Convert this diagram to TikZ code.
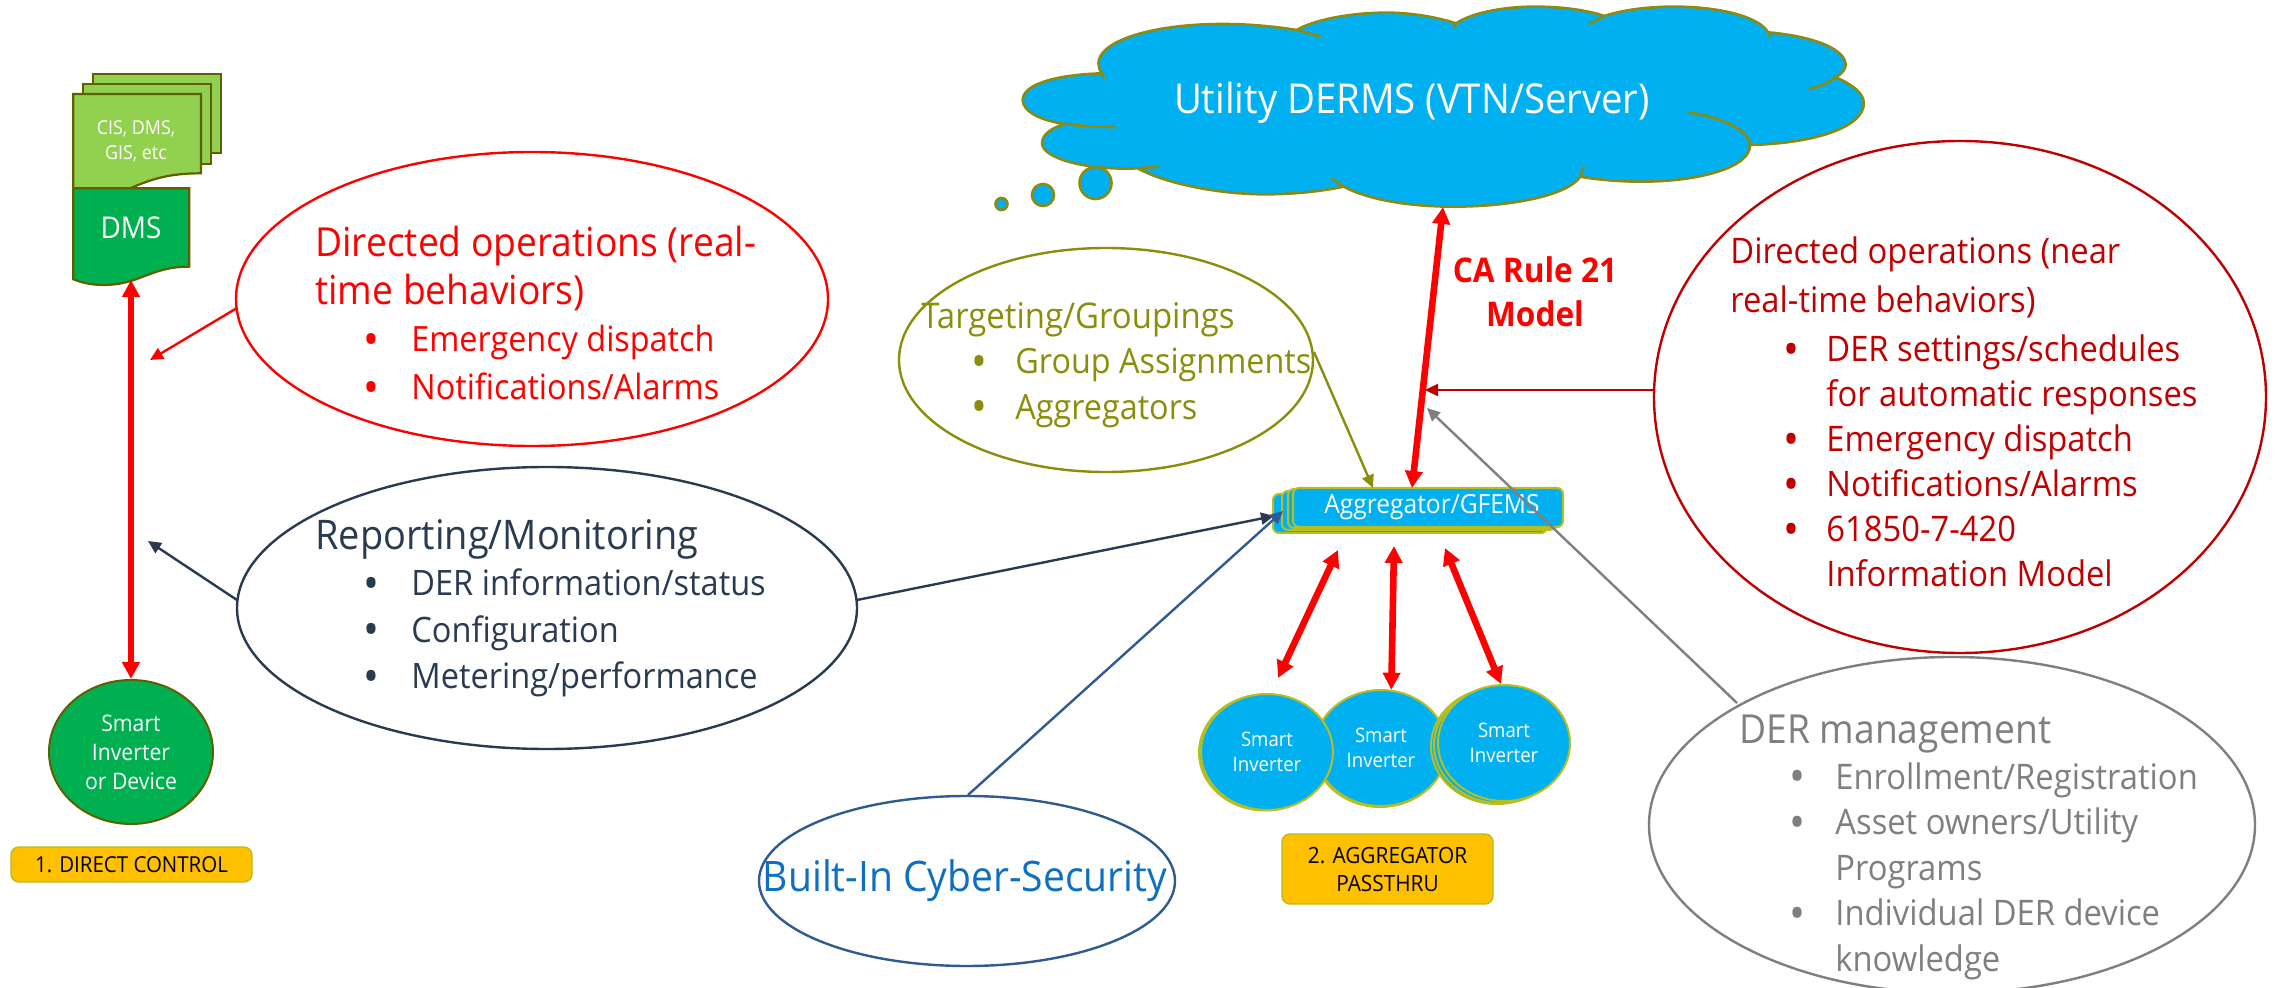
\documentclass[tikz,border=0pt]{standalone}
\usepackage{fontspec}
\setmainfont[FakeStretch=0.93]{Open Sans}
\usetikzlibrary{arrows.meta,shapes.geometric}
\definecolor{sky}{HTML}{00B0F0}
\definecolor{leaf}{HTML}{92D050}
\definecolor{grass}{HTML}{00B050}
\definecolor{olivedk}{HTML}{606000}
\definecolor{cloudln}{HTML}{8C8A10}
\definecolor{yel}{HTML}{B8BE20}
\definecolor{amber}{HTML}{FFC000}
\definecolor{tgt}{HTML}{8A8E0A}
\definecolor{darkr}{HTML}{C00000}
\definecolor{navy}{HTML}{2A3A50}
\definecolor{blu}{HTML}{2F5A92}
\definecolor{txtblue}{HTML}{0F6FC0}
\definecolor{gry}{HTML}{7F7F7F}
\newcommand\fs[2]{\fontsize{#1pt}{#2pt}\selectfont}
\newcommand\bul[2]{\hspace*{#1pt}\makebox[#2pt][l]{\raisebox{-.1em}{\scalebox{1.3}{\textbullet}}}}
\tikzset{
  x=0.5pt,y=-0.5pt,
  bubble/.style={ellipse,draw,line width=1.2pt,inner sep=0pt},
  blocktext/.style={anchor=north west,align=left,inner sep=0pt},
  thin arrow/.style={line width=1.2pt,-{Triangle[width=6pt,length=6.5pt]}},
  link/.style={red,line width=3.3pt,{Triangle[width=8.5pt,length=8.5pt]}-{Triangle[width=8.5pt,length=8.5pt]}},
  si/.style={ellipse,draw=yel,line width=1pt,fill=sky,minimum width=66pt,minimum height=58pt,inner sep=0pt},
  agg/.style={rectangle,rounded corners=3pt,draw=yel,line width=1pt,fill=sky,inner sep=0pt},
  tag/.style={rectangle,rounded corners=4pt,draw=yel,line width=.7pt,fill=amber,inner sep=0pt,align=center,text=black},
  sheet/.style={draw=olivedk,line width=1.1pt},
  whitetxt/.style={text=white,align=center,inner sep=0pt},
  sitext/.style={text=white,align=center,font=\fs{10}{12.7}},
}
\begin{document}
\begin{tikzpicture}
\useasboundingbox (0,0) rectangle (2277,988);
\fill[white] (0,0) rectangle (2277,988);

% document stack
\begin{scope}[shift={(0,40)},x=0.5pt/3,y=-0.5pt/3]
\draw[sheet,fill=leaf] (280,102) rectangle (663,340);
\draw[sheet,fill=leaf] (250,132) rectangle (632,371);
\draw[sheet,fill=leaf] (220,162) -- (603,162) -- (603,400) .. controls (500,400) and (450,420) .. (390,445) -- (220,445) -- cycle;
\draw[sheet,fill=grass] (220,445) -- (568,445) -- (568,680) .. controls (450,680) and (420,735) .. (310,735) .. controls (280,735) and (250,730) .. (220,718) -- cycle;
\end{scope}
\node[whitetxt,font=\fs{9.6}{12.5}] (cis) at (136,141.5) {CIS, DMS,\\GIS, etc};
\node[whitetxt,font=\fs{15}{18}] (dms) at (131,228) {DMS};
\coordinate (dmsbot) at (131,280);

% direct control device
\node[ellipse,draw=olivedk,line width=1pt,fill=grass,minimum width=82pt,minimum height=72pt,inner sep=0pt,text=white,align=center,font=\fs{11.4}{14.5}] (dev) at (131,752) {Smart\\Inverter\\or Device};
\node[tag,minimum width=120.5pt,minimum height=17.5pt,font=\fs{11}{13}] (tag1) at (131.5,864.5) {1. DIRECT CONTROL};
\draw[link] (dmsbot) -- (dev.north);

% cloud
\begin{scope}[shift={(950,0)},x=0.5pt/1.65,y=-0.5pt/3]
\draw[cloudln,line width=1.3pt,fill=sky]
 (250,220) .. controls (170,225) and (120,255) .. (120,300) .. controls (120,335) and (150,362) .. (190,372)
 .. controls (165,385) and (152,405) .. (152,430) .. controls (152,475) and (225,512) .. (310,505)
 .. controls (360,555) and (450,583) .. (520,583) .. controls (570,583) and (615,573) .. (650,560)
 .. controls (690,600) and (760,620) .. (830,620) .. controls (930,620) and (1020,585) .. (1040,530)
 .. controls (1070,540) and (1110,545) .. (1140,545) .. controls (1240,545) and (1322,500) .. (1320,435)
 .. controls (1430,430) and (1508,380) .. (1508,310) .. controls (1508,280) and (1490,255) .. (1462,232)
 .. controls (1472,220) and (1478,208) .. (1478,195) .. controls (1478,150) and (1430,110) .. (1350,97)
 .. controls (1335,50) and (1270,20) .. (1195,20) .. controls (1150,20) and (1110,30) .. (1080,48)
 .. controls (1050,30) and (1010,20) .. (965,20) .. controls (910,20) and (860,40) .. (835,70)
 .. controls (800,50) and (760,38) .. (720,38) .. controls (660,38) and (600,60) .. (572,90)
 .. controls (530,78) and (490,72) .. (450,72) .. controls (330,72) and (245,125) .. (245,190) .. controls (245,200) and (247,210) .. (250,220) -- cycle;
\draw[cloudln,line width=1.3pt]
 (250,220) -- (255,236)
 (190,372) .. controls (215,378) and (245,381) .. (272,381)
 (310,505) -- (345,500)
 (630,535) -- (650,560)
 (1040,530) -- (1046,500)
 (1218,337) .. controls (1270,350) and (1320,390) .. (1320,435)
 (1462,232) .. controls (1450,248) and (1435,260) .. (1417,268)
 (1350,97) -- (1353,112)
 (1080,48) -- (1055,72)
 (835,70) -- (832,85)
 (572,90) -- (612,110);
\end{scope}
\draw[cloudln,line width=1.3pt,fill=sky] (1095.5,183) circle[radius=8pt];
\draw[cloudln,line width=1.3pt,fill=sky] (1043,195) circle[radius=5.5pt];
\draw[cloudln,line width=1.3pt,fill=sky] (1001.5,204) circle[radius=3pt];
\node[whitetxt,font=\fs{20.6}{22}] (derms) at (1412,103) {Utility DERMS (VTN/Server)};
\coordinate (cloudbot) at (1443,207);

% aggregator
\node[agg,minimum width=137pt,minimum height=19.5pt] (a3) at (1410,513.5) {};
\node[agg,minimum width=136.5pt,minimum height=19.5pt] (a2) at (1418.5,510.5) {};
\node[agg,minimum width=136pt,minimum height=19.5pt] (a1) at (1424,508.5) {};
\node[agg,minimum width=135pt,minimum height=19.5pt] (agg) at (1428,507.5) {};
\node[whitetxt,font=\fs{13.2}{16}] (aggtxt) at (1428,507.5) {\hspace*{4pt}Aggregator/GFEMS};

% inverters
\node[si] (s2b) at (1380,749) {};
\node[si,sitext] (s2) at (1381,748) {Smart\\Inverter};
\node[si] (s1b) at (1265,752.5) {};
\node[si,sitext] (s1) at (1267,752) {Smart\\Inverter};
\node[si] (s3c) at (1497,746) {};
\node[si] (s3b) at (1500,745) {};
\node[si,sitext] (s3) at (1504,743) {Smart\\Inverter};
\node[tag,minimum width=105.5pt,minimum height=35pt,font=\fs{11.2}{14}] (tag2) at (1387.5,869) {2. AGGREGATOR\\PASSTHRU};

\coordinate (up1) at (1338,550);
\coordinate (up2) at (1394,546);
\coordinate (up3) at (1445,548);
\coordinate (dn1) at (1278,678);
\draw[link] (dn1) -- (up1);
\draw[link] (s2.80) -- (up2);
\draw[link] (s3.93) -- (up3);
\coordinate (aggtop) at (1412,488);
\draw[link] (aggtop) -- (cloudbot);

% bubbles
\node[bubble,draw=red,minimum width=296pt,minimum height=147pt] (b1) at (532,299) {};
\node[bubble,draw=navy,minimum width=310pt,minimum height=141pt] (b2) at (547,608) {};
\node[bubble,draw=tgt,minimum width=207pt,minimum height=112pt] (b3) at (1106,360) {};
\node[bubble,draw=darkr,minimum width=306pt,minimum height=256pt] (b4) at (1960,397) {};
\node[bubble,draw=gry,minimum width=303pt,minimum height=168pt] (b5) at (1952,825) {};
\node[bubble,draw=blu,minimum width=208pt,minimum height=85pt] (b6) at (967,881) {};

\coordinate (t1) at (150,360);
\coordinate (t2) at (148,541);
\coordinate (t3) at (1274,516);
\coordinate (t4) at (1283,511);
\coordinate (t5) at (1373,488);
\coordinate (t6) at (1425,390);
\coordinate (t7) at (1427,408);
\coordinate (f1) at (237,308);
\coordinate (f2) at (237,600);
\coordinate (f3) at (857,600);
\coordinate (f4) at (968,795);
\coordinate (f5) at (1314,352);
\coordinate (f6) at (1654,390);
\coordinate (f7) at (1737,703);
\draw[thin arrow,red] (f1) -- (t1);
\draw[thin arrow,navy] (f2) -- (t2);
\draw[thin arrow,navy] (f3) -- (t3);
\draw[thin arrow,blu] (f4) -- (t4);
\draw[thin arrow,tgt] (f5) -- (t5);
\draw[thin arrow,darkr] (f6) -- (t6);
\draw[thin arrow,gry] (f7) -- (t7);

% bubble texts
\node[blocktext,text=red,font=\fs{17.4}{23.8}] (x1) at (315,226) {{\fs{20}{23.8}Directed operations (real-}\\{\fs{20}{23.8}time behaviors)}\\\bul{24}{24}Emergency dispatch\\\bul{24}{24}Notifications/Alarms};
\node[blocktext,text=navy,font=\fs{17.5}{23.2}] (x2) at (315,519) {{\fs{20.4}{23.2}Reporting/Monitoring}\\\bul{24}{24}DER information/status\\\bul{24}{24}Configuration\\\bul{24}{24}Metering/performance};
\node[blocktext,text=tgt,font=\fs{17.4}{22.7}] (x3) at (921,302) {{\fs{17.7}{22.7}Targeting/Groupings}\\\bul{25}{22}Group Assignments\\\bul{25}{22}Aggregators};
\node[blocktext,text=darkr,font=\fs{17.6}{22.5}] (x4) at (1730,236) {{\fs{17.6}{24.5}Directed operations (near}\\[2.2pt]{\fs{17.6}{24.5}real-time behaviors)}\\[2.2pt]\bul{26.5}{21.5}DER settings/schedules\\\hspace*{48pt}for automatic responses\\\bul{26.5}{21.5}Emergency dispatch\\\bul{26.5}{21.5}Notifications/Alarms\\\bul{26.5}{21.5}61850-7-420\\\hspace*{48pt}Information Model};
\node[blocktext,text=gry,font=\fs{17.6}{22.75}] (x5) at (1739,715) {{\fs{20}{22.75}DER management}\\\bul{25}{23}Enrollment/Registration\\\bul{25}{23}Asset owners/Utility\\\hspace*{48pt}Programs\\\bul{25}{23}Individual DER device\\\hspace*{48pt}knowledge};
\node[text=txtblue,inner sep=0pt,font=\fs{21}{24}] (x6) at (965,881) {Built-In Cyber-Security};
\node[text=red,align=center,inner sep=0pt,font=\bfseries\fs{17}{22}] (ca) at (1535,292) {CA Rule 21\\Model};
\end{tikzpicture}
\end{document}
